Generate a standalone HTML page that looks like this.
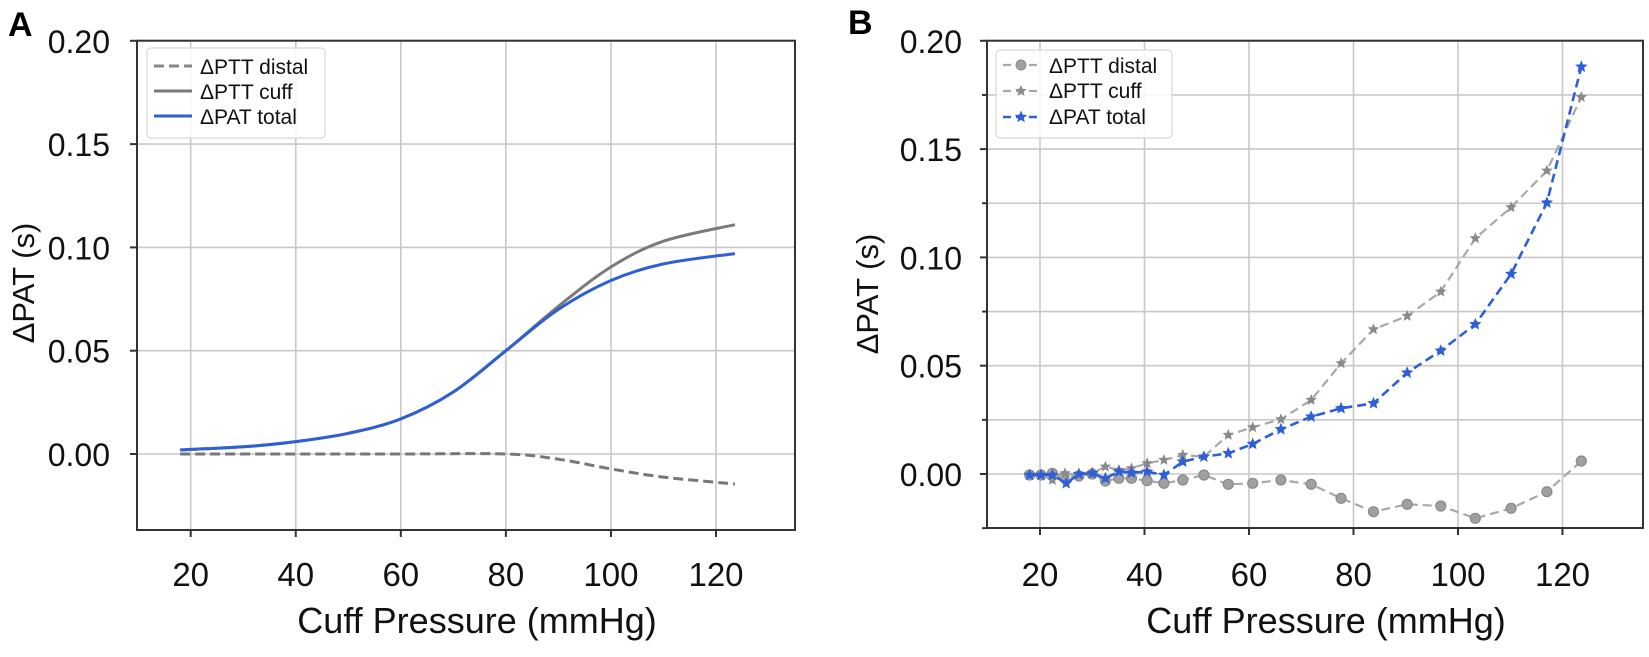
<!DOCTYPE html>
<html><head><meta charset="utf-8">
<style>
html,body{margin:0;padding:0;background:#fff;}
svg{display:block;font-family:"Liberation Sans",sans-serif;}
</style></head>
<body>
<svg id="s" width="1649" height="657" viewBox="0 0 1649 657" xmlns="http://www.w3.org/2000/svg">
<rect width="1649" height="657" fill="#fff"/>
<g id="g"></g>
<text x="8" y="36" font-size="34" font-weight="bold">A</text>
<text x="848" y="34" font-size="34" font-weight="bold">B</text>
</svg>
<script>
const NS="http://www.w3.org/2000/svg";
const G=document.getElementById('g');
function el(t,a,txt){const e=document.createElementNS(NS,t);for(const k in a)e.setAttribute(k,a[k]);if(txt!==undefined)e.textContent=txt;G.appendChild(e);return e;}
function star(cx,cy,r,fill,stroke){let p=[];for(let i=0;i<10;i++){const rr=i%2?r*0.45:r;const a=-Math.PI/2+i*Math.PI/5;p.push((cx+rr*Math.cos(a)).toFixed(1)+","+(cy+rr*Math.sin(a)).toFixed(1));}el('polygon',{points:p.join(' '),fill:fill,stroke:stroke||'none','stroke-width':1});}
function smooth(pts){let d="M"+pts[0][0]+","+pts[0][1];for(let i=0;i<pts.length-1;i++){const p0=pts[Math.max(0,i-1)],p1=pts[i],p2=pts[i+1],p3=pts[Math.min(pts.length-1,i+2)];const c1=[p1[0]+(p2[0]-p0[0])/6,p1[1]+(p2[1]-p0[1])/6],c2=[p2[0]-(p3[0]-p1[0])/6,p2[1]-(p3[1]-p1[1])/6];d+=` C${c1[0]},${c1[1]} ${c2[0]},${c2[1]} ${p2[0]},${p2[1]}`;}return d;}

// ---------- Panel A ----------
const AL=137,AR=795,AT=40.7,AB=530;
const ax=p=>190.7+(p-20)*5.253, ay=v=>454-v*2066;
for(let p=20;p<=120;p+=20){el('line',{x1:ax(p),x2:ax(p),y1:AT,y2:AB,stroke:'#c8c8c8','stroke-width':1.6});el('line',{x1:ax(p),x2:ax(p),y1:AB,y2:AB+7,stroke:'#333','stroke-width':2});el('text',{x:ax(p),y:586,'font-size':33,'text-anchor':'middle',fill:'#111'},String(p));}
for(let i=0;i<=4;i++){const v=i*0.05,y=ay(v);el('line',{x1:AL,x2:AR,y1:y,y2:y,stroke:'#c8c8c8','stroke-width':1.6});el('line',{x1:AL-7,x2:AL,y1:y,y2:y,stroke:'#333','stroke-width':2});el('text',{x:110,y:y+12,'font-size':32,'text-anchor':'end',fill:'#111'},v.toFixed(2));}
el('rect',{x:AL,y:AT,width:AR-AL,height:AB-AT,fill:'none',stroke:'#333','stroke-width':2});
const tot=[[18,.002],[30,.0035],[40,.006],[50,.010],[60,.017],[70,.030],[80,.050],[90,.070],[100,.084],[110,.092],[123.6,.097]];
const cuf=[[18,.002],[30,.0035],[40,.006],[50,.010],[60,.017],[70,.030],[80,.050],[90,.0715],[100,.0905],[110,.103],[123.6,.111]];
const dis=[[18,0],[40,0],[60,0],[80,0],[90,-.0025],[100,-.0072],[110,-.0112],[123.6,-.0145]];
const m=a=>a.map(q=>[+ax(q[0]).toFixed(1),+ay(q[1]).toFixed(1)]);
el('path',{d:smooth(m(dis)),fill:'none',stroke:'#777','stroke-width':3,'stroke-dasharray':'10,5'});
el('path',{d:smooth(m(cuf)),fill:'none',stroke:'#7a7a7a','stroke-width':3});
el('path',{d:smooth(m(tot)),fill:'none',stroke:'#2f5fd6','stroke-width':3});
el('rect',{x:147,y:48,width:178,height:90,rx:4,fill:'#fff','fill-opacity':0.85,stroke:'#d8d8d8','stroke-width':1.2});
el('line',{x1:154,x2:192,y1:66,y2:66,stroke:'#888','stroke-width':3,'stroke-dasharray':'10,5'});
el('line',{x1:154,x2:192,y1:91,y2:91,stroke:'#7a7a7a','stroke-width':3});
el('line',{x1:154,x2:192,y1:116,y2:116,stroke:'#2f5fd6','stroke-width':3});
el('text',{x:200,y:74,'font-size':21,fill:'#111'},'ΔPTT distal');
el('text',{x:200,y:99,'font-size':21,fill:'#111'},'ΔPTT cuff');
el('text',{x:200,y:124,'font-size':21,fill:'#111'},'ΔPAT total');
el('text',{x:477,y:633,'font-size':36,'text-anchor':'middle',fill:'#111'},'Cuff Pressure (mmHg)');
el('text',{x:0,y:0,'font-size':31,'text-anchor':'middle',fill:'#111',transform:'translate(34,283) rotate(-90)'},'ΔPAT (s)');

// ---------- Panel B ----------
const BL=987,BR=1643,BT=40.7,BB=528;
const bx=p=>1040+(p-20)*5.225, by=v=>474-v*2166;
for(let p=20;p<=120;p+=20){el('line',{x1:bx(p),x2:bx(p),y1:BT,y2:BB,stroke:'#c8c8c8','stroke-width':1.6});el('line',{x1:bx(p),x2:bx(p),y1:BB,y2:BB+7,stroke:'#333','stroke-width':2});el('text',{x:bx(p),y:586,'font-size':33,'text-anchor':'middle',fill:'#111'},String(p));}
for(let i=-1;i<=8;i++){const v=i*0.025,y=by(v);el('line',{x1:BL,x2:BR,y1:y,y2:y,stroke:'#c8c8c8','stroke-width':1.6});el('line',{x1:BL-(i%2?5:7),x2:BL,y1:y,y2:y,stroke:'#333','stroke-width':2});if(i>=0&&i%2==0)el('text',{x:962,y:y+12,'font-size':32,'text-anchor':'end',fill:'#111'},v.toFixed(2));}
el('rect',{x:BL,y:BT,width:BR-BL,height:BB-BT,fill:'none',stroke:'#333','stroke-width':2});
const X=zx=>900+zx/2.376, Y=zy=>20+zy/3;
const D=[[308,1365],[335,1365],[362,1360],[390,1370],[425,1368],[457,1362],[488,1383],[520,1375],[550,1375],[587,1382],[627,1390],[672,1380],[722,1365],[780,1393],[838,1390],[905,1380],[977,1393],[1048,1435],[1125,1475],[1205,1453],[1285,1458],[1367,1495],[1452,1465],[1537,1415]];
const C=[[308,1365],[335,1365],[362,1380],[392,1360],[425,1365],[457,1360],[488,1340],[520,1350],[550,1345],[587,1330],[627,1320],[672,1305],[722,1310],[780,1245],[838,1222],[905,1198],[977,1140],[1048,1030],[1125,928],[1205,888],[1285,815],[1367,655],[1452,562],[1537,452]];
const T=[[308,1365],[335,1365],[362,1365],[395,1390],[425,1362],[457,1360],[488,1375],[520,1355],[550,1358],[587,1355],[627,1365],[672,1325],[722,1310],[780,1300],[838,1272],[905,1228],[977,1190],[1048,1165],[1125,1150],[1205,1058],[1285,992],[1367,913],[1452,762],[1537,548]];
const cv=a=>a.map(q=>[+X(q[0]).toFixed(1),+Y(q[1]).toFixed(1)]);
const lastX=bx(123.6);
const Dp=cv(D);Dp.push([lastX,by(0.006)]);
const Cp=cv(C);Cp.push([lastX,by(0.174)]);
const Tp=cv(T);Tp.push([lastX,by(0.188)]);
const pl=a=>a.map(q=>q.join(',')).join(' ');
el('polyline',{points:pl(Dp),fill:'none',stroke:'#a8a8a8','stroke-width':2.2,'stroke-dasharray':'9,5'});
Dp.forEach(q=>el('circle',{cx:q[0],cy:q[1],r:5,fill:'#a0a0a0',stroke:'#8a8a8a','stroke-width':1.2}));
el('polyline',{points:pl(Cp),fill:'none',stroke:'#a8a8a8','stroke-width':2.2,'stroke-dasharray':'9,5'});
Cp.forEach(q=>star(q[0],q[1],6,'#8a8a8a'));
el('polyline',{points:pl(Tp),fill:'none',stroke:'#2f5fd6','stroke-width':2.6,'stroke-dasharray':'9,5'});
Tp.forEach(q=>star(q[0],q[1],6.5,'#2f5fd6'));
el('rect',{x:996,y:50,width:176,height:88,rx:4,fill:'#fff','fill-opacity':0.85,stroke:'#d8d8d8','stroke-width':1.2});
el('line',{x1:1003,x2:1039,y1:65,y2:65,stroke:'#a8a8a8','stroke-width':2.2,'stroke-dasharray':'8,5'});
el('circle',{cx:1021,cy:65,r:5,fill:'#a0a0a0',stroke:'#8a8a8a'});
el('line',{x1:1003,x2:1039,y1:91,y2:91,stroke:'#a8a8a8','stroke-width':2.2,'stroke-dasharray':'8,5'});
star(1021,91,6,'#8a8a8a');
el('line',{x1:1003,x2:1039,y1:117,y2:117,stroke:'#2f5fd6','stroke-width':2.6,'stroke-dasharray':'8,5'});
star(1021,117,6.5,'#2f5fd6');
el('text',{x:1049,y:73,'font-size':21,fill:'#111'},'ΔPTT distal');
el('text',{x:1049,y:98,'font-size':21,fill:'#111'},'ΔPTT cuff');
el('text',{x:1049,y:124,'font-size':21,fill:'#111'},'ΔPAT total');
el('text',{x:1326,y:633,'font-size':36,'text-anchor':'middle',fill:'#111'},'Cuff Pressure (mmHg)');
el('text',{x:0,y:0,'font-size':31,'text-anchor':'middle',fill:'#111',transform:'translate(878,294) rotate(-90)'},'ΔPAT (s)');
</script>
</body></html>
